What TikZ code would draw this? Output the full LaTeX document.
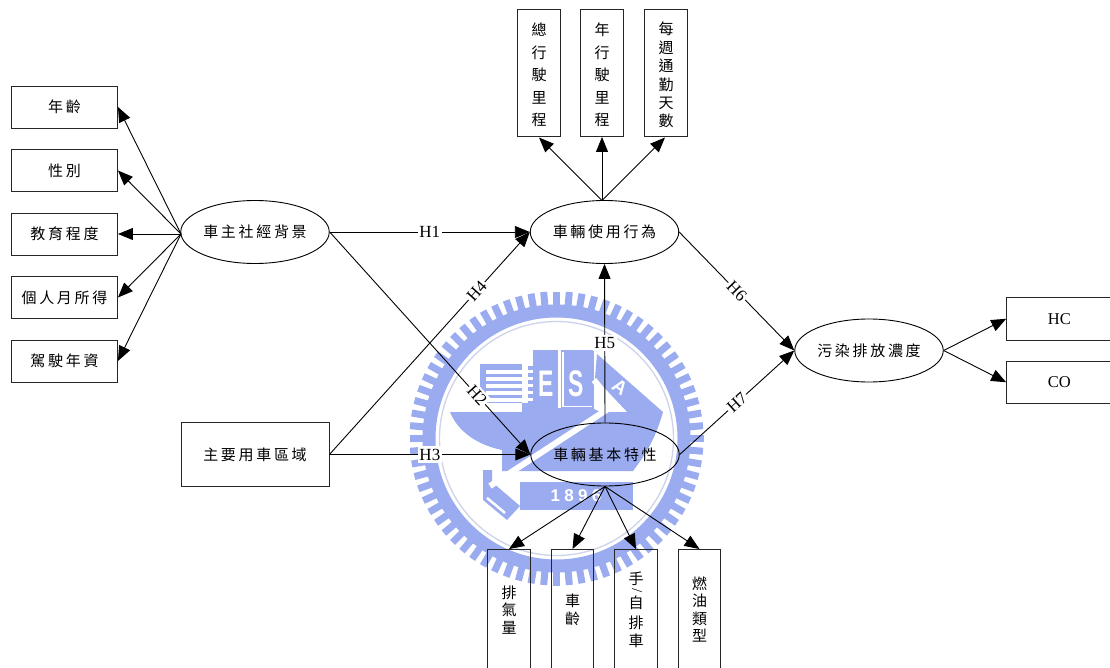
\documentclass[tikz,border=0pt]{standalone}
\usepackage{fontspec}
\setmainfont{Liberation Serif}
\newfontfamily\cjk[LetterSpace=18]{Noto Sans CJK TC}
\newfontfamily\cjkv{Noto Sans CJK TC}
\newfontfamily\logofont{Liberation Sans}
\usetikzlibrary{arrows.meta,shapes.geometric}
\definecolor{logoblue}{HTML}{9AABF0}
\definecolor{logoline}{HTML}{CDD3EA}
\newcommand{\topstrut}{\rule{0pt}{17pt}}
\tikzset{
  hbox/.style={draw=black!85,line width=0.9pt,rectangle,inner sep=0pt,align=center,font=\cjk\fontsize{15}{18}\selectfont},
  latin/.style={font=\fontsize{16.5}{18}\selectfont},
  vbox/.style={draw=black!85,line width=0.9pt,rectangle,inner sep=0pt,align=center,minimum width=42.5pt},
  vtop/.style={vbox,minimum height=127pt,font=\cjkv\fontsize{15}{18.4}\selectfont},
  vtopwide/.style={vbox,minimum height=127pt,font=\cjkv\fontsize{15}{22.5}\selectfont},
  vbot/.style={vbox,minimum height=120.5pt,font=\cjkv\fontsize{15}{17.5}\selectfont},
  oval/.style={draw=black,line width=0.9pt,ellipse,inner sep=0pt,minimum width=148.5pt,minimum height=63pt,font=\cjk\fontsize{15}{18}\selectfont},
  link/.style={draw=black,line width=0.9pt},
  arrow/.style={link,-{Triangle[length=15pt,width=12pt]}},
  hyp/.style={fill=white,inner xsep=1.5pt,inner ysep=2.5pt,font=\fontsize{17}{18}\selectfont},
  logotext/.style={text=white,font=\logofont\bfseries}
}
\begin{document}
\begin{tikzpicture}[x=1pt,y=-1pt]
\useasboundingbox (0,0) rectangle (1110,668);
\clip (0,0) rectangle (1110,668);
% watermark
\foreach \a in {0,5,...,355}
  \draw[logoblue,line width=7pt] ({556.5+130*cos(\a)},{438.5+130*sin(\a)}) -- ({556.5+147*cos(\a)},{438.5+147*sin(\a)});
\draw[logoblue,line width=13pt] (556.5,438.5) circle [radius=127.5];
\draw[logoline,line width=1.3pt] (556.5,438.5) circle [radius=117];
% hull
\fill[logoblue] (450,412) -- (527,412) -- (527,408) -- (592,408) -- (600,412) -- (663,412)
  .. controls (655,440) and (645,455) .. (633,471) -- (502,471) -- (502,450)
  .. controls (478,445) and (458,432) .. (450,412) -- cycle;
% flag
\fill[logoblue] (480,364) rectangle (522,403);
\foreach \yy in {370,377,384,391,398}
  \fill[white] (486,\yy) rectangle (522,\yy+3.5);
\foreach \yy in {366,373,380,387,394,401}
  \fill[logoblue] (528,\yy) rectangle (533,\yy+4);
\fill[logoblue] (522,403) rectangle (535,412);
% buildings
\fill[logoblue] (533,350) rectangle (558,412);
\fill[logoblue] (561,350) rectangle (594,409);
\draw[white,line width=1.6pt] (563,352) -- (563,406.5) -- (592,406.5);
\node[logotext,xscale=0.62,font=\logofont\bfseries\fontsize{37}{37}\selectfont] (logoE) at (546,384) {E};
\node[logotext,xscale=0.62,font=\logofont\bfseries\fontsize{37}{37}\selectfont] (logoS) at (576,384) {S};
% sail
\fill[logoblue] (597,354) -- (663,412) -- (630,415) -- (595,378) -- cycle;
\node[logotext,rotate=-35,font=\logofont\bfseries\fontsize{19}{19}\selectfont] (logoA) at (620,387) {A};
% diagonal stripe
\fill[logoblue] (483,470) -- (492,470) -- (492,482) -- (520,506) -- (507,520) -- (483,500) -- cycle;
\draw[white,line width=6pt] (490,486) -- (614,405) -- (594,380);
\draw[white,line width=2.5pt] (487,498) -- (505,513);
% banner
\fill[logoblue] (520,482) rectangle (633,510);
\node[logotext,font=\logofont\bfseries\fontsize{17}{17}\selectfont] (logoY) at (576,496) {\addfontfeature{LetterSpace=25}1896};

% nodes
\node[hbox,minimum width=106pt,minimum height=42pt] (age) at (64.5,107) {年齡};
\node[hbox,minimum width=106pt,minimum height=42pt] (sex) at (64.5,170.5) {性別};
\node[hbox,minimum width=106pt,minimum height=42pt] (edu) at (64.5,234) {教育程度};
\node[hbox,minimum width=106pt,minimum height=42pt] (inc) at (64.5,297.5) {個人月所得};
\node[hbox,minimum width=106pt,minimum height=42pt] (exp) at (64.5,361) {駕駛年資};
\node[oval] (owner) at (255,232) {車主社經背景};
\node[oval] (use) at (604.5,232) {車輛使用行為};
\node[oval] (base) at (605,454.5) {車輛基本特性};
\node[oval] (pol) at (869,350.5) {污染排放濃度};
\node[hbox,minimum width=148pt,minimum height=63.5pt] (area) at (255,454.5) {主要用車區域};
\node[vtopwide] (tot) at (539,73) {\topstrut 總\\行\\駛\\里\\程};
\node[vtopwide] (yr) at (602,73) {\topstrut 年\\行\\駛\\里\\程};
\node[vtop] (week) at (666,73) {\topstrut 每\\週\\通\\勤\\天\\數};
\node[vbot] (disp) at (509,609.75) {排\\氣\\量};
\node[vbot] (cage) at (572.5,609.75) {車\\齡};
\node[vbot,font=\cjkv\fontsize{15}{17.5}\selectfont] (gear) at (636,609.75) {手\\[6.5pt]自\\[2.5pt]排\\車};
\node[rotate=-90,inner sep=0pt,font=\fontsize{15}{15}\selectfont] (slash) at (637,591) {/};
\node[vbot] (fuel) at (699.5,609.75) {燃\\油\\類\\型};
\node[hbox,latin,minimum width=105.3pt,minimum height=42.5pt] (hc) at (1059.3,318.75) {HC};
\node[hbox,latin,minimum width=105.3pt,minimum height=42.5pt] (co) at (1059.3,382.25) {CO};
\coordinate (useTop) at (602,200.5);
\coordinate (totTip) at (539,137.5);
\coordinate (weekTip) at (665,137.5);
\coordinate (ownerTip) at (181,234);

% connectors
\draw[arrow] (ownerTip) -- (age.east);
\draw[arrow] (ownerTip) -- (sex.east);
\draw[arrow] (ownerTip) -- (edu.east);
\draw[arrow] (ownerTip) -- (inc.east);
\draw[arrow] (ownerTip) -- (exp.east);
\draw[arrow] (useTop) -- (totTip);
\draw[arrow] (useTop) -- (yr.south);
\draw[arrow] (useTop) -- (weekTip);
\draw[arrow] (base.south) -- (disp.north);
\draw[arrow] (base.south) -- (cage.north);
\draw[arrow] (base.south) -- (gear.north);
\draw[arrow] (base.south) -- (fuel.north);
\draw[arrow] (pol.east) -- (hc.west);
\draw[arrow] (pol.east) -- (co.west);
\draw[arrow] (owner.east) -- node[hyp] (h1) {H1} (use.west);
\draw[arrow] (owner.east) -- node[hyp,sloped,pos=0.735] (h2) {H2} (base.west);
\draw[arrow] (area.east) -- node[hyp] (h3) {H3} (base.west);
\draw[arrow] (area.east) -- node[hyp,sloped,pos=0.735] (h4) {H4} (use.west);
\draw[arrow] (base.north) -- node[hyp] (h5) {H5} (use.south);
\draw[arrow] (use.east) -- node[hyp,sloped,pos=0.5] (h6) {H6} (pol.west);
\draw[arrow] (base.east) -- node[hyp,sloped,pos=0.5] (h7) {H7} (pol.west);
\end{tikzpicture}
\end{document}
